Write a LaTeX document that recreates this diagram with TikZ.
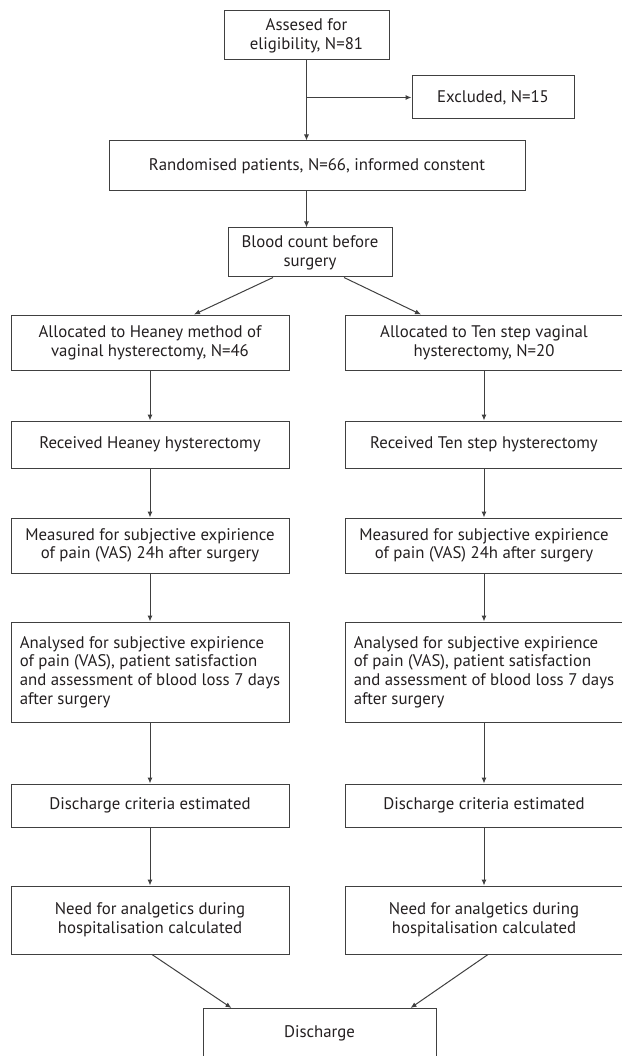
\documentclass[tikz,border=0pt]{standalone}
\usepackage{fontspec}
\setmainfont{PT Sans}
\usetikzlibrary{arrows.meta}
\definecolor{flowgray}{HTML}{404040}
\definecolor{inkblack}{HTML}{231F20}

\begin{document}
\begin{tikzpicture}[%
  x=1pt, y=-1pt,
  box/.style={draw=flowgray, line width=1pt, align=center, inner sep=0pt,
    text=inkblack, font=\fontsize{16.8}{18.7}\selectfont},
  colbox/.style={box, minimum width=278pt},
  flow/.style={draw=flowgray, line width=1pt, -{Latex[length=6pt,width=5pt]}}]
  \useasboundingbox (0,0) rectangle (621,1056);
  \node [box, minimum width=165pt, minimum height=49pt] (assess) at (306.5,35.5) {Assesed for\\eligibility, N=81};
  \node [box, minimum width=162pt, minimum height=43pt] (excl) at (493,97.5) {Excluded, N=15};
  \node [box, minimum width=416pt, minimum height=50pt] (rand) at (317,166) {Randomised patients, N=66, informed constent};
  \node [box, minimum width=164pt, minimum height=49pt] (blood) at (310,252.5) {Blood count before\\surgery};
  \node [colbox, minimum height=55pt] (lalloc) at (150,342.5) {Allocated to Heaney method of\\vaginal hysterectomy, N=46};
  \node [colbox, minimum height=55pt] (ralloc) at (484,342.5) {Allocated to Ten step vaginal\\hysterectomy, N=20};
  \node [colbox, minimum height=47pt] (lrecv) at (150,444.5) {Received Heaney hysterectomy};
  \node [colbox, minimum height=47pt] (rrecv) at (484,444.5) {Received Ten step hysterectomy};
  \node [colbox, minimum height=55pt] (lmeas) at (150,545.5) {Measured for subjective expirience\\of pain (VAS) 24h after surgery};
  \node [colbox, minimum height=55pt] (rmeas) at (484,545.5) {Measured for subjective expirience\\of pain (VAS) 24h after surgery};
  \node [colbox, minimum height=100pt, align=left] (lanal) at (150,672) {Analysed for subjective expirience\\of pain (VAS), patient satisfaction\\and assessment of blood loss 7 days\\after surgery};
  \node [colbox, minimum height=100pt, align=left] (ranal) at (484,672) {Analysed for subjective expirience\\of pain (VAS), patient satisfaction\\and assessment of blood loss 7 days\\after surgery};
  \node [colbox, minimum height=43pt] (lcrit) at (150,805.5) {Discharge criteria estimated};
  \node [colbox, minimum height=43pt] (rcrit) at (484,805.5) {Discharge criteria estimated};
  \node [colbox, minimum height=68pt] (lneed) at (150,920) {Need for analgetics during\\hospitalisation calculated};
  \node [colbox, minimum height=68pt] (rneed) at (484,920) {Need for analgetics during\\hospitalisation calculated};
  \node [box, minimum width=233pt, minimum height=50pt, anchor=north] (disch) at (319.5,1008) {Discharge};
  \coordinate (split) at (assess |- excl);
  \draw [flow] (assess) -- (assess |- rand.north);
  \draw [flow] (split) -- (excl);
  \draw [flow] (rand.south -| assess) -- (blood.north -| assess);
  \draw [flow] ([xshift=-37pt]blood.south) -- ([xshift=44pt]lalloc.north);
  \draw [flow] ([xshift=34pt]blood.south) -- ([xshift=-63pt]ralloc.north);
  \draw [flow] (lalloc) -- (lrecv);
  \draw [flow] (lrecv) -- (lmeas);
  \draw [flow] (lmeas) -- (lanal);
  \draw [flow] (lanal) -- (lcrit);
  \draw [flow] (lcrit) -- (lneed);
  \draw [flow] (ralloc) -- (rrecv);
  \draw [flow] (rrecv) -- (rmeas);
  \draw [flow] (rmeas) -- (ranal);
  \draw [flow] (ranal) -- (rcrit);
  \draw [flow] (rcrit) -- (rneed);
  \draw [flow] ([xshift=2pt]lneed.south) -- ([xshift=-88pt]disch.north);
  \draw [flow] ([xshift=4pt]rneed.south) -- ([xshift=91pt]disch.north);
\end{tikzpicture}
\end{document}
